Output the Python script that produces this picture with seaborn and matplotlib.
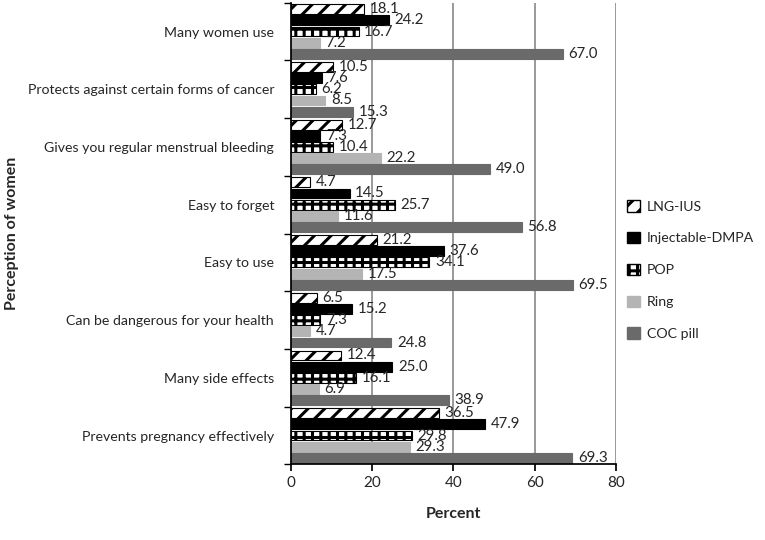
import numpy as np
import pandas as pd
import matplotlib
matplotlib.use("Agg")
import matplotlib.pyplot as plt
import seaborn as sns
from matplotlib.patches import Patch

categories = [
    "Many women use",
    "Protects against certain forms of cancer",
    "Gives you regular menstrual bleeding",
    "Easy to forget",
    "Easy to use",
    "Can be dangerous for your health",
    "Many side effects",
    "Prevents pregnancy effectively",
]
methods = ["LNG-IUS", "Injectable-DMPA", "POP", "Ring", "COC pill"]

lng_ius = [18.1, 10.5, 12.7, 4.7, 21.2, 6.5, 12.4, 36.5]
dmpa = [24.2, 7.6, 7.3, 14.5, 37.6, 15.2, 25.0, 47.9]
pop = [16.7, 6.2, 10.4, 25.7, 34.1, 7.3, 16.1, 29.8]
ring = [7.2, 8.5, 22.2, 11.6, 17.5, 4.7, 6.9, 29.3]
coc = [67.0, 15.3, 49.0, 56.8, 69.5, 24.8, 38.9, 69.3]

series = [lng_ius, dmpa, pop, ring, coc]
df = pd.DataFrame({
    "category": categories * len(methods),
    "method": [m for m in methods for _ in categories],
    "value": [v for s in series for v in s],
})

sns.set_theme(style="white")
plt.rcParams["font.family"] = ["Lato", "DejaVu Sans"]
plt.rcParams["hatch.linewidth"] = 2.2

fig, ax = plt.subplots(figsize=(7.65, 5.4), dpi=100)
sns.barplot(data=df, y="category", x="value", hue="method",
            order=categories, hue_order=methods, orient="h",
            width=0.97, gap=0.12, ax=ax, legend=False)

faces = ["white", "black", "white", "#b4b4b4", "#6a6a6a"]
edges = ["black", "black", "black", "#b4b4b4", "#6a6a6a"]
hatches = ["//", None, "++", None, None]
for cont, fc, ec, h in zip(ax.containers, faces, edges, hatches):
    for bar in cont:
        bar.set_facecolor(fc)
        bar.set_edgecolor(ec)
        bar.set_linewidth(0.8)
        if h:
            bar.set_hatch(h)
    ax.bar_label(cont, fmt="%.1f", padding=4, fontsize=10.8)

ax.set_xlim(0, 80)
ax.set_xticks([0, 20, 40, 60, 80])
ax.xaxis.grid(True, color="#888888", linewidth=1.2)
ax.set_axisbelow(True)
for s in ["top", "right"]:
    ax.spines[s].set_visible(False)
ax.spines["left"].set_color("black")
ax.spines["bottom"].set_color("black")
ax.tick_params(axis="y", length=0, labelsize=10.2, pad=12)
ax.tick_params(axis="x", length=5, color="black", direction="out", bottom=True, labelsize=11)
ax.set_yticks(np.arange(-0.5, len(categories), 1), minor=True)
ax.tick_params(axis="y", which="minor", length=5, color="black", left=True)
ax.set_ylim(len(categories) - 0.5, -0.5)
ax.set_xlabel("Percent", fontsize=11.5, fontweight="bold", labelpad=12)
ax.set_ylabel("Perception of women", fontsize=11.5, fontweight="bold")
ax.yaxis.set_label_coords(-0.835, 0.5)

handles = [Patch(facecolor=fc, edgecolor=ec, hatch=h, label=m)
           for fc, ec, h, m in zip(faces, edges, hatches, methods)]
fig.legend(handles=handles, loc="center left", bbox_to_anchor=(0.803, 0.5),
           frameon=False, fontsize=10.2, labelspacing=1.35,
           handlelength=0.9, handleheight=0.9, handletextpad=0.5)

fig.subplots_adjust(left=0.38, right=0.805, top=0.995, bottom=0.14)
fig.savefig("out.png", dpi=100)
